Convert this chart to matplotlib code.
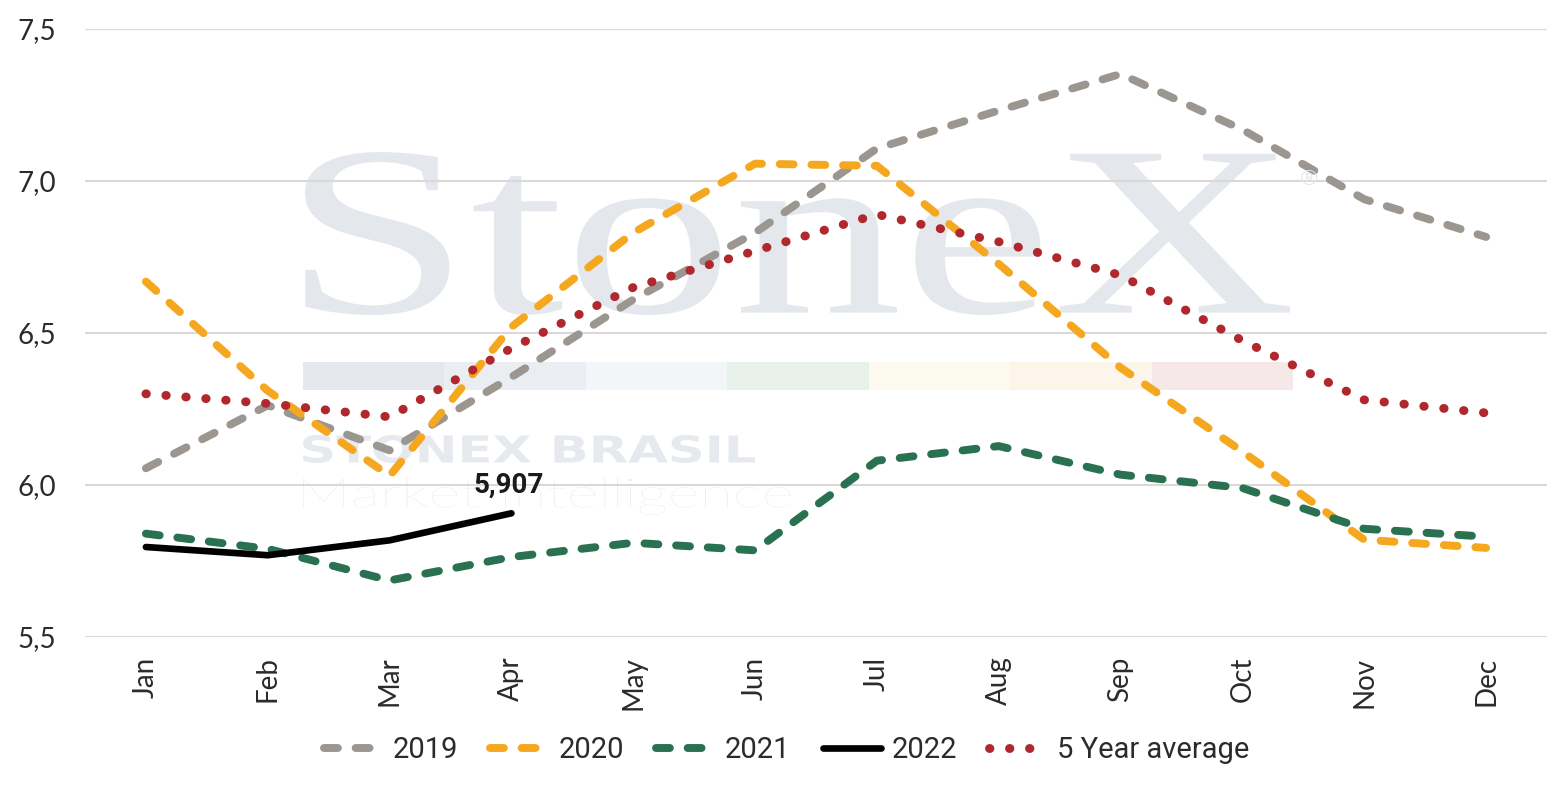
import matplotlib
matplotlib.use("Agg")
import numpy as np
import matplotlib.pyplot as plt
from matplotlib import font_manager as fm
from matplotlib.textpath import TextPath
from matplotlib.patches import PathPatch, Rectangle
from matplotlib.font_manager import FontProperties
from matplotlib.transforms import Affine2D, IdentityTransform
from matplotlib.ticker import FuncFormatter

# ---------------- data ----------------
months = ["Jan", "Feb", "Mar", "Apr", "May", "Jun", "Jul", "Aug", "Sep", "Oct", "Nov", "Dec"]
y2019 = [6.055, 6.262, 6.114, 6.355, 6.61, 6.83, 7.107, 7.232, 7.352, 7.169, 6.94, 6.816]
y2020 = [6.669, 6.31, 6.03, 6.52, 6.83, 7.057, 7.05, 6.727, 6.386, 6.11, 5.82, 5.793]
y2021 = [5.84, 5.79, 5.686, 5.763, 5.81, 5.785, 6.08, 6.128, 6.034, 5.99, 5.856, 5.83]
y2022 = [5.796, 5.769, 5.818, 5.907]
y_avg = [6.30, 6.268, 6.224, 6.45, 6.65, 6.77, 6.89, 6.80, 6.69, 6.475, 6.28, 6.237]
last_label = "5,907"
yticks = [5.5, 6.0, 6.5, 7.0, 7.5]

# ---------------- fonts ----------------
names = {f.name for f in fm.fontManager.ttflist}
tick_font = "Lato" if "Lato" in names else "DejaVu Sans"
if "Liberation Sans Narrow" in names:
    leg_font, leg_size, ann_size = "Liberation Sans Narrow", 25, 24
else:
    leg_font, leg_size, ann_size = "Roboto", 21, 20

W, H = 1568, 789
fig = plt.figure(figsize=(W / 100, H / 100), dpi=100)
fig.patch.set_facecolor("white")
ax = fig.add_axes([85 / W, 1 - 637 / H, (1547 - 85) / W, (637 - 29) / H])

# ---------------- watermark ----------------
def fit_text(s, x0, ytop, x1, ybot, prop, color, z=0.2):
    tp = TextPath((0, 0), s, size=100, prop=prop)
    bb = tp.get_extents()
    tr = (Affine2D().translate(-bb.x0, -bb.y0)
          .scale((x1 - x0) / bb.width, (ybot - ytop) / bb.height)
          .translate(x0, H - ybot))
    p = PathPatch(tr.transform_path(tp), fc=color, ec="none",
                  transform=IdentityTransform(), zorder=z, clip_on=False)
    ax.add_artist(p)

fit_text("StoneX", 305, 152, 1290, 315,
         FontProperties(family=["Liberation Serif", "DejaVu Serif"]), "#e4e8ed")
fit_text("STONEX BRASIL", 303, 435, 755, 463,
         FontProperties(family="DejaVu Sans", weight="bold"), "#e6e9ee")
fit_text("Market Intelligence", 303, 478, 790, 515,
         FontProperties(family=tick_font, weight="light"), "#e8ebef")
fig.text(1298 / W, 1 - 185 / H, "\u00ae", color="#e4e8ed", fontsize=16, zorder=0)
seg_cols = ["#e4e8ec", "#eaeef2", "#f2f6f9", "#e8f0ea", "#fcf9ee", "#fdf5e9", "#f6e8e8"]
segw = (1293 - 303) / len(seg_cols)
for i, c in enumerate(seg_cols):
    ax.add_artist(Rectangle((303 + i * segw, H - 390), segw, 28, fc=c, ec="none",
                            transform=IdentityTransform(), zorder=0.2, clip_on=False))

# ---------------- lines ----------------
x = np.arange(len(months))
lw = 5.7
dash = (1.75, 2.25)
ax.plot(x, y2019, color="#9b968f", lw=lw, dashes=dash, dash_capstyle="round",
        label="2019", zorder=3)
ax.plot(x, y2020, color="#f5a81f", lw=lw, dashes=dash, dash_capstyle="round",
        label="2020", zorder=3)
ax.plot(x, y2021, color="#2a7152", lw=lw, dashes=dash, dash_capstyle="round",
        label="2021", zorder=3)
ax.plot(x[:len(y2022)], y2022, color="#000000", lw=4.8, solid_capstyle="round",
        label="2022", zorder=4)
ax.plot(x, y_avg, color="#b0272d", lw=6.4, dashes=(0.05, 2.2), dash_capstyle="round",
        label="5 Year average", zorder=3)

ax.annotate(last_label, (x[len(y2022) - 1], y2022[-1]), xytext=(-2, 15),
            textcoords="offset points", ha="center", va="baseline",
            fontsize=ann_size, fontweight="bold", family=leg_font, color="#1a1a1a")

# ---------------- axes ----------------
ax.set_xlim(-0.5, len(months) - 0.5)
ax.set_ylim(5.5, 7.5)
ax.set_yticks(yticks)
ax.yaxis.set_major_formatter(FuncFormatter(lambda v, p: f"{v:.1f}".replace(".", ",")))
ax.set_xticks(x)
ax.set_xticklabels(months, rotation=90)
ax.yaxis.grid(True, color="#dcd8d8", lw=1.5, zorder=0.5)
ax.xaxis.grid(False)
ax.set_axisbelow(True)
for s in ax.spines.values():
    s.set_visible(False)
ax.tick_params(axis="both", length=0, labelsize=20, labelcolor="#2b2b2b")
ax.tick_params(axis="y", pad=21)
ax.tick_params(axis="x", pad=14)
for t in ax.get_xticklabels() + ax.get_yticklabels():
    t.set_family(tick_font)

leg = ax.legend(loc="center", bbox_to_anchor=(787 / W, 1 - 750 / H),
                bbox_transform=fig.transFigure, ncol=5, frameon=False,
                prop=FontProperties(family=leg_font, size=leg_size),
                handlelength=2.0, handletextpad=0.35, columnspacing=1.1)
for t in leg.get_texts():
    t.set_color("#2b2b2b")

fig.savefig("out.png", dpi=100, facecolor="white")
